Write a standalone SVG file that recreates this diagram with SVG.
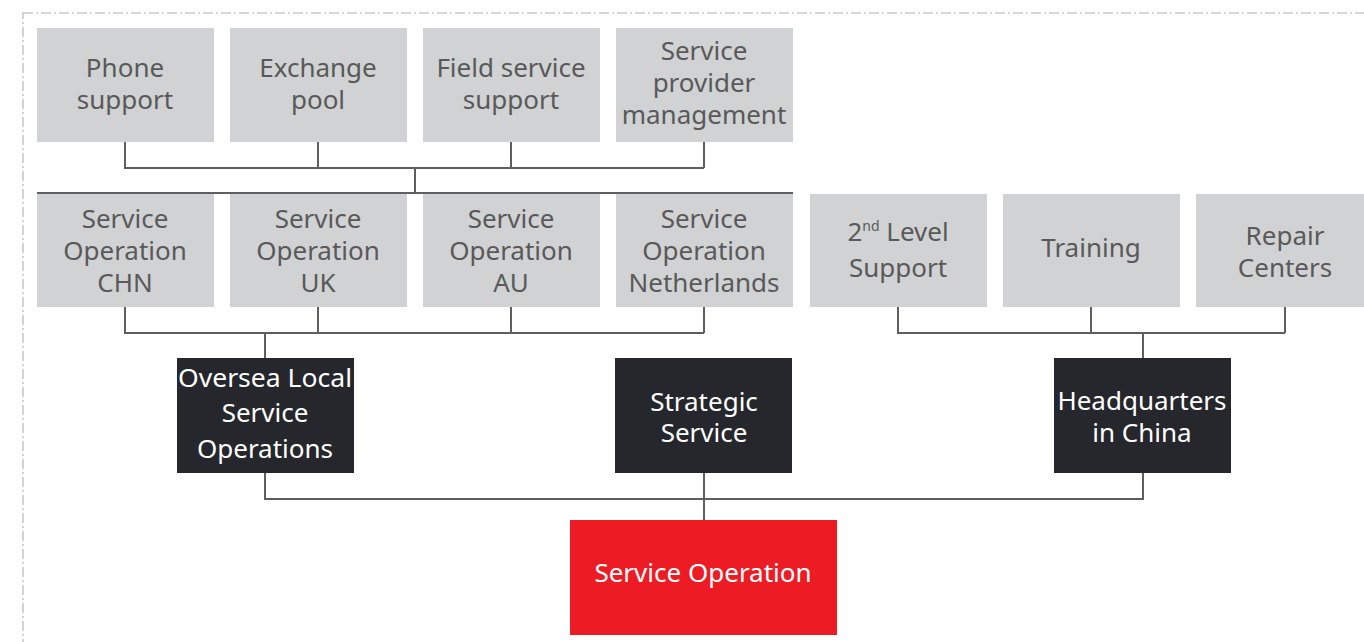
<svg xmlns="http://www.w3.org/2000/svg" width="1364" height="642" viewBox="0 0 1364 642">
<style>
.g{fill:#d1d2d4}
.d{fill:#26272c}
.r{fill:#ed1c24}
text{font-family:"Noto Sans","Open Sans","DejaVu Sans",sans-serif;font-size:26px;text-anchor:middle}
.gt{fill:#595959}
.wt{fill:#ffffff}
.c{fill:none;stroke:#5f5f5f;stroke-width:2}
.frame{fill:none;stroke:#c8c9cb;stroke-width:1.6;stroke-dasharray:10 3 2 3}
</style>
<rect width="1364" height="642" fill="#ffffff"/>
<rect class="frame" x="23" y="13" width="1400" height="700"/>
<g id="connectors">
<path class="c" d="M125 142V168H704M318 142V168M511 142V168M704 142V168M415 168V193M37 193H793"/>
<path class="c" d="M125 307V333H704M318 307V333M511 307V333M704 307V333M265 333V358"/>
<path class="c" d="M898 307V333H1285M1091 307V333M1285 307V333M1143 333V358"/>
<path class="c" d="M265 473V499H1143V473M704 473V520"/>
</g>
<g id="n-phone"><rect class="g" x="37" y="28" width="177" height="114"/><text class="gt" x="125" y="77">Phone</text><text class="gt" x="125" y="109">support</text></g>
<g id="n-exchange"><rect class="g" x="230" y="28" width="177" height="114"/><text class="gt" x="318" y="77">Exchange</text><text class="gt" x="318" y="109">pool</text></g>
<g id="n-field"><rect class="g" x="423" y="28" width="177" height="114"/><text class="gt" x="511" y="77">Field service</text><text class="gt" x="511" y="109">support</text></g>
<g id="n-provider"><rect class="g" x="616" y="28" width="177" height="114"/><text class="gt" x="704" y="60">Service</text><text class="gt" x="704" y="92">provider</text><text class="gt" x="704" y="124">management</text></g>
<g id="n-chn"><rect class="g" x="37" y="194" width="177" height="113"/><text class="gt" x="125" y="228">Service</text><text class="gt" x="125" y="260">Operation</text><text class="gt" x="125" y="292">CHN</text></g>
<g id="n-uk"><rect class="g" x="230" y="194" width="177" height="113"/><text class="gt" x="318" y="228">Service</text><text class="gt" x="318" y="260">Operation</text><text class="gt" x="318" y="292">UK</text></g>
<g id="n-au"><rect class="g" x="423" y="194" width="177" height="113"/><text class="gt" x="511" y="228">Service</text><text class="gt" x="511" y="260">Operation</text><text class="gt" x="511" y="292">AU</text></g>
<g id="n-nl"><rect class="g" x="616" y="194" width="177" height="113"/><text class="gt" x="704" y="228">Service</text><text class="gt" x="704" y="260">Operation</text><text class="gt" x="704" y="292">Netherlands</text></g>
<g id="n-2nd"><rect class="g" x="810" y="194" width="177" height="113"/><text class="gt" x="898" y="241">2<tspan font-size="14" dy="-10">nd</tspan><tspan dy="10"> Level</tspan></text><text class="gt" x="898" y="277">Support</text></g>
<g id="n-training"><rect class="g" x="1003" y="194" width="177" height="113"/><text class="gt" x="1091" y="257">Training</text></g>
<g id="n-repair"><rect class="g" x="1196" y="194" width="168" height="113"/><text class="gt" x="1285" y="245">Repair</text><text class="gt" x="1285" y="277">Centers</text></g>
<g id="n-oversea"><rect class="d" x="177" y="358" width="177" height="115"/><text class="wt" x="265" y="387" textLength="174" lengthAdjust="spacingAndGlyphs">Oversea Local</text><text class="wt" x="265" y="422">Service</text><text class="wt" x="265" y="458">Operations</text></g>
<g id="n-strategic"><rect class="d" x="615" y="358" width="177" height="115"/><text class="wt" x="704" y="411">Strategic</text><text class="wt" x="704" y="442">Service</text></g>
<g id="n-hq"><rect class="d" x="1054" y="358" width="177" height="115"/><text class="wt" x="1142" y="410">Headquarters</text><text class="wt" x="1142" y="442">in China</text></g>
<g id="n-so"><rect class="r" x="570" y="520" width="267" height="115"/><text class="wt" x="703" y="582">Service Operation</text></g>
</svg>
